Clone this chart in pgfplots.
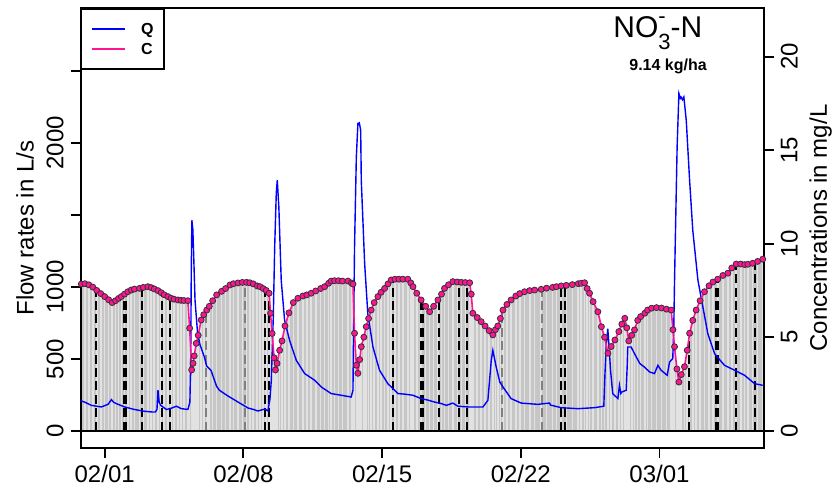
\documentclass[border=0pt]{standalone}
\usepackage{fontspec}
\setmainfont{Liberation Sans}
\usepackage{pgfplots}
\pgfplotsset{compat=1.18}
\usepackage{pgfplotstable}
\definecolor{qblue}{RGB}{0,0,255}
\definecolor{cpink}{RGB}{255,20,147}
\definecolor{gfill}{RGB}{198,198,198}
\definecolor{gcomb}{RGB}{226,226,226}

\pgfplotstableread{
day conc
-1.18 7.84
-1.0 7.86
-0.8 7.80
-0.6 7.68
-0.4 7.50
-0.2 7.33
0.0 7.17
0.2 7.00
0.38 6.85
0.55 6.95
0.7 7.07
0.84 7.17
1.0 7.30
1.17 7.43
1.34 7.52
1.5 7.57
1.76 7.61
1.95 7.66
2.18 7.70
2.35 7.65
2.5 7.58
2.69 7.49
2.85 7.38
3.0 7.27
3.19 7.17
3.35 7.08
3.5 7.03
3.70 6.99
3.85 6.97
4.0 6.96
4.20 6.95
4.29 5.48
4.39 3.25
4.46 3.60
4.52 4.00
4.62 4.67
4.72 5.10
4.87 5.92
5.0 6.20
5.15 6.45
5.28 6.65
5.45 6.95
5.65 7.26
5.9 7.45
6.1 7.60
6.32 7.79
6.5 7.86
6.73 7.90
6.95 7.93
7.16 7.93
7.32 7.91
7.5 7.85
7.7 7.74
7.84 7.70
8.0 7.60
8.15 7.50
8.30 7.35
8.37 6.28
8.45 5.20
8.55 3.90
8.62 3.25
8.70 3.60
8.83 4.30
8.95 4.80
9.1 5.60
9.3 6.30
9.52 6.85
9.75 7.08
10.0 7.20
10.2 7.26
10.42 7.35
10.65 7.47
10.9 7.60
11.10 7.70
11.3 7.88
11.43 8.00
11.6 8.02
11.8 8.02
12.0 8.00
12.28 8.00
12.45 7.90
12.53 7.84
12.61 5.21
12.70 3.50
12.78 3.07
12.87 3.80
12.95 4.49
13.08 5.00
13.20 5.56
13.32 6.00
13.45 6.45
13.6 6.85
13.79 7.17
13.95 7.40
14.13 7.61
14.3 7.85
14.46 8.06
14.65 8.10
14.85 8.10
15.05 8.10
15.30 8.10
15.45 7.90
15.56 7.70
15.75 7.35
15.97 6.99
16.2 6.65
16.40 6.36
16.6 6.65
16.82 6.99
17.0 7.30
17.15 7.61
17.35 7.80
17.57 7.97
17.8 7.95
18.0 7.93
18.2 7.92
18.42 7.91
18.5 7.30
18.58 6.28
18.8 6.05
19.0 5.83
19.2 5.60
19.4 5.35
19.59 5.12
19.72 5.40
19.84 5.60
19.97 6.00
20.10 6.45
20.3 6.75
20.51 6.99
20.75 7.20
20.95 7.33
21.19 7.43
21.45 7.49
21.7 7.52
22.03 7.56
22.3 7.62
22.6 7.66
22.8 7.70
23.04 7.74
23.3 7.77
23.6 7.81
23.9 7.86
24.05 7.88
24.22 7.91
24.35 7.60
24.47 7.35
24.65 6.90
24.89 6.36
25.07 5.56
25.23 5.00
25.40 4.14
25.56 4.50
25.75 4.85
25.95 5.30
26.1 5.70
26.25 6.01
26.35 5.50
26.45 4.80
26.6 5.10
26.74 5.39
26.9 5.90
27.05 6.10
27.26 6.28
27.4 6.45
27.6 6.55
27.85 6.58
28.1 6.56
28.35 6.50
28.59 6.45
28.68 5.40
28.76 4.49
28.88 3.30
28.98 2.60
29.1 3.00
29.26 3.42
29.40 4.30
29.52 5.21
29.68 5.90
29.85 6.45
30.05 6.95
30.27 7.43
30.5 7.75
30.7 7.95
30.94 8.10
31.2 8.30
31.45 8.42
31.65 8.70
31.87 8.91
32.1 8.91
32.3 8.88
32.46 8.90
32.7 8.95
32.95 9.05
33.21 9.17
}\Cdata

\pgfplotstableread{
day flow
-1.21 210
-1.0 200
-0.67 178
-0.17 167
0.17 185
0.34 218
0.45 200
0.59 190
1.01 167
1.51 149
2.02 137
2.40 132
2.56 132
2.64 150
2.69 283
2.75 200
2.83 178
3.12 149
3.40 160
3.62 172
3.87 155
4.20 150
4.30 200
4.34 468
4.37 1100
4.40 1463
4.45 1400
4.50 1185
4.56 908
4.69 676
4.81 600
5.03 514
5.15 450
5.37 420
5.65 310
5.79 283
6.20 245
6.73 201
7.23 160
7.50 150
7.73 139
8.07 152
8.24 140
8.34 220
8.41 352
8.51 792
8.58 1278
8.66 1650
8.71 1741
8.75 1650
8.79 1556
8.85 1300
8.91 1047
9.08 769
9.33 630
9.67 491
10.09 399
10.60 352
10.93 306
11.43 260
11.94 248
12.44 236
12.53 283
12.61 1278
12.70 1900
12.78 2135
12.85 2140
12.92 2088
12.95 1741
13.12 1163
13.28 815
13.54 583
13.87 422
14.29 329
14.80 260
15.20 255
15.56 248
15.97 225
16.30 215
16.65 201
17.00 190
17.24 178
17.57 194
17.83 172
18.33 167
19.09 167
19.34 213
19.51 491
19.59 560
19.76 444
19.94 340
20.10 306
20.51 225
21.02 194
21.86 185
22.45 194
22.50 180
23.04 162
23.88 155
24.72 162
25.19 172
25.25 400
25.31 583
25.39 711
25.45 600
25.53 422
25.64 260
25.90 225
25.98 317
26.05 260
26.10 271
26.32 283
26.37 450
26.40 583
26.57 583
26.74 537
27.01 468
27.24 444
27.50 410
27.75 399
27.92 456
28.08 422
28.39 387
28.51 479
28.67 503
28.72 700
28.76 1047
28.89 1972
28.98 2343
29.05 2310
29.09 2319
29.16 2300
29.23 2319
29.35 2158
29.52 1741
29.68 1394
29.94 1047
30.19 861
30.44 676
30.78 537
31.28 456
31.79 422
32.29 387
32.80 329
33.21 317
}\Qdata

\pgfplotstableread{
day conc
-0.42 7.50
1.90 7.65
2.89 7.36
3.32 7.10
8.09 7.58
8.30 7.35
14.55 8.08
16.87 7.05
17.88 7.94
18.28 7.92
23.02 7.74
23.21 7.76
31.84 8.88
32.83 9.00
29.47 4.90
}\Ddata

\pgfplotstableread{
day conc
1.03 7.32
16.01 6.90
30.91 8.08
}\DTdata

\pgfplotstableread{
day conc
5.11 6.40
7.08 7.93
20.05 6.30
22.08 7.57
}\Gdata

\pgfplotsset{common/.style={scale only axis, width=341.5pt, height=220pt,
  xmin=-1.21, xmax=33.26, at={(0,0)}, anchor=south west,
  tick align=outside, major tick length=5pt,
  tick style={line width=0.9pt, black},
  axis line style={line width=1pt},
  ticklabel style={font=\fontsize{12}{12}\selectfont},
  label style={font=\fontsize{12}{12}\selectfont}}}

\begin{document}
\begin{tikzpicture}
\path[use as bounding box] (-40.35pt,-22pt) rectangle (377.15pt,224pt);
\begin{axis}[common, hide axis, ymin=-0.925, ymax=22.6]
\addplot[fill=gfill, draw=none] table[x=day,y=conc]{\Cdata} \closedcycle;
\addplot[ycomb, gcomb, line width=0.8pt] table[x=day,y=conc]{\Cdata};
\addplot[ycomb, black!50, line width=0.7pt, dash pattern=on 4.5pt off 2.2pt] table[x=day,y=conc]{\Gdata};
\addplot[ycomb, black, line width=1pt, dash pattern=on 4.5pt off 2.2pt] table[x=day,y=conc]{\Ddata};
\addplot[ycomb, black, line width=1.8pt, dash pattern=on 4.5pt off 2.2pt] table[x=day,y=conc]{\DTdata};
\end{axis}
\begin{axis}[common, ymin=-118, ymax=2937,
  xtick={0,7,14,21,28}, xticklabels={02/01,02/08,02/15,02/22,03/01},
  ytick={0,500,1000,1500,2000,2500}, yticklabels={0,500,1000,,2000,},
  xtick pos=left, ytick pos=left,
  yticklabel style={rotate=90, anchor=south},
  ylabel={Flow rates in L/s},
  ylabel style={at={(axis description cs:-0.0814,0.5)}, anchor=center},
  legend style={at={(0,1)}, anchor=north west, draw=black, line width=0.9pt,
    font=\bfseries\fontsize{8}{9}\selectfont, inner xsep=5pt, inner ysep=7pt,
    row sep=4pt, nodes={inner sep=0pt, text height=6pt, text depth=0pt},
    /tikz/every odd column/.append style={column sep=7.5pt},
    cells={anchor=west}},
  legend image code/.code={\draw[#1] (0pt,0pt) -- (16.5pt,0pt);}]
\addlegendimage{qblue, line width=0.8pt}
\addlegendentry{Q}
\addlegendimage{cpink, line width=0.8pt}
\addlegendentry{C}
\addplot[qblue, line width=0.7pt, forget plot] table[x=day,y=flow]{\Qdata};
\addplot[black, line width=0.6pt, forget plot] coordinates {(-1.21,0) (33.26,0)};
\end{axis}
\begin{axis}[common, ymin=-0.925, ymax=22.6,
  axis x line=none, axis y line*=right,
  ytick={0,5,10,15,20}, yticklabels={0,5,10,15,20},
  yticklabel style={rotate=90, anchor=north},
  ylabel={Concentrations in mg/L},
  ylabel style={at={(axis description cs:1.0835,0.5)}, anchor=center, rotate=0}]
\addplot[cpink, line width=0.8pt, mark=*, mark size=1.5pt,
  mark options={fill=cpink, draw=black!80, line width=0.4pt}] table[x=day,y=conc]{\Cdata};
\node[anchor=base, font=\fontsize{15}{15}\selectfont, inner sep=0pt] at (axis description cs:0.845,0.934)
  {NO\rlap{\raisebox{0.45em}{\fontsize{11}{11}\selectfont -}}\raisebox{-0.42em}{\fontsize{11}{11}\selectfont 3}-N};
\node[anchor=base, font=\bfseries\fontsize{8}{8}\selectfont, inner sep=0pt] at (axis description cs:0.86,0.859) {9.14 kg/ha};
\end{axis}
\end{tikzpicture}
\end{document}
